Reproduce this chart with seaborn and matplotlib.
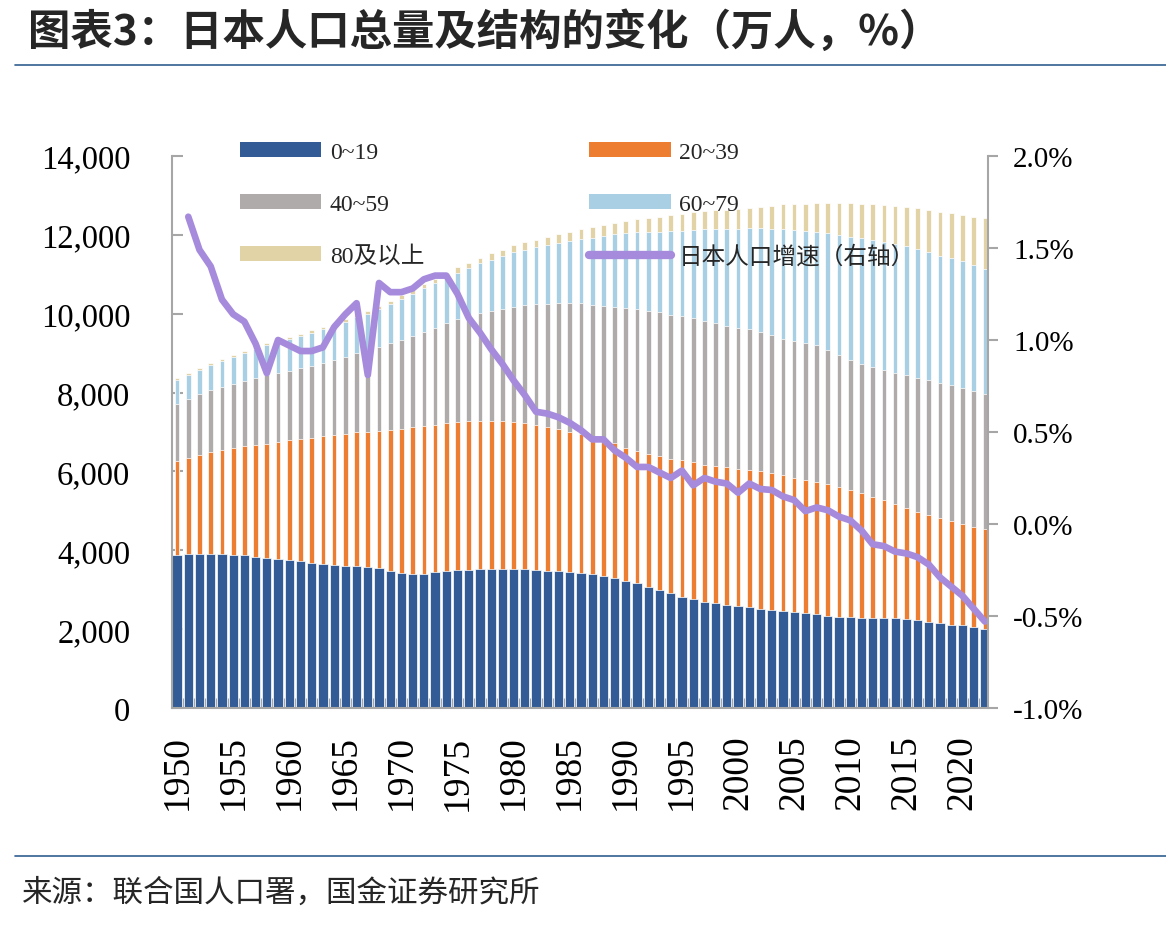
import numpy as np
import pandas as pd
import seaborn as sns
import matplotlib.pyplot as plt
from matplotlib.patches import Patch
from matplotlib.lines import Line2D

# 年份与各年龄段人口（万人）
years = list(range(1950, 2023))

age_0_19 = [3880, 3895, 3900, 3905, 3895, 3880, 3870, 3820, 3795, 3770,
            3760, 3735, 3690, 3650, 3625, 3610, 3600, 3580, 3540, 3465,
            3420, 3400, 3400, 3440, 3480, 3505, 3510, 3520, 3530, 3530,
            3530, 3530, 3510, 3485, 3470, 3440, 3415, 3400, 3340, 3285,
            3225, 3160, 3070, 2995, 2910, 2825, 2755, 2700, 2665, 2625,
            2585, 2550, 2520, 2485, 2460, 2425, 2400, 2375, 2340, 2315,
            2315, 2290, 2290, 2270, 2270, 2255, 2230, 2185, 2160, 2115,
            2100, 2055, 2015]

age_20_39 = [2390, 2450, 2520, 2585, 2655, 2710, 2770, 2855, 2905, 2980,
             3025, 3085, 3160, 3245, 3305, 3345, 3390, 3420, 3490, 3590,
             3660, 3720, 3750, 3740, 3750, 3755, 3760, 3750, 3740, 3740,
             3735, 3710, 3660, 3635, 3600, 3565, 3535, 3480, 3470, 3440,
             3380, 3350, 3360, 3385, 3410, 3455, 3475, 3475, 3480, 3480,
             3480, 3480, 3480, 3470, 3445, 3410, 3375, 3365, 3340, 3290,
             3210, 3160, 3065, 3000, 2895, 2820, 2745, 2720, 2655, 2620,
             2565, 2530, 2530]

age_40_59 = [1440, 1490, 1540, 1570, 1595, 1630, 1660, 1690, 1740, 1740,
             1765, 1800, 1830, 1860, 1900, 1950, 2010, 2075, 2130, 2195,
             2255, 2320, 2390, 2460, 2530, 2600, 2690, 2740, 2805, 2855,
             2915, 2975, 3065, 3135, 3195, 3265, 3310, 3350, 3395, 3455,
             3550, 3600, 3645, 3655, 3660, 3655, 3655, 3635, 3610, 3595,
             3580, 3570, 3530, 3495, 3465, 3470, 3480, 3460, 3400, 3350,
             3300, 3275, 3290, 3300, 3335, 3370, 3400, 3410, 3425, 3455,
             3455, 3460, 3425]

age_60_79 = [610, 615, 620, 640, 660, 685, 705, 735, 765, 790,
             800, 810, 835, 845, 860, 890, 905, 910, 955, 990,
             1035, 1055, 1100, 1130, 1155, 1185, 1200, 1265, 1300, 1330,
             1385, 1410, 1445, 1485, 1530, 1570, 1630, 1700, 1760, 1840,
             1890, 1950, 1995, 2045, 2115, 2175, 2240, 2330, 2390, 2445,
             2515, 2565, 2635, 2690, 2775, 2820, 2845, 2860, 2955, 3040,
             3125, 3185, 3220, 3250, 3265, 3270, 3275, 3255, 3235, 3220,
             3220, 3195, 3170]

age_80 = [40, 42, 44, 46, 48, 50, 51, 52, 53, 54,
          55, 58, 62, 66, 70, 73, 77, 80, 85, 90,
          95, 100, 108, 115, 122, 130, 138, 145, 155, 162,
          170, 182, 195, 208, 222, 235, 250, 265, 280, 292,
          305, 330, 355, 380, 405, 430, 450, 460, 475, 490,
          490, 515, 545, 600, 625, 650, 695, 740, 770, 815,
          855, 885, 905, 945, 970, 995, 1025, 1070, 1115, 1140,
          1175, 1225, 1275]

# 日本人口增速（%），1951-2022
growth_years = list(range(1951, 2023))
growth = [1.67, 1.49, 1.40, 1.22, 1.14, 1.10, 0.98, 0.82, 1.00, 0.97,
          0.94, 0.94, 0.96, 1.07, 1.14, 1.20, 0.81, 1.31, 1.26, 1.26,
          1.28, 1.33, 1.35, 1.35, 1.25, 1.12, 1.04, 0.95, 0.87, 0.78,
          0.70, 0.61, 0.60, 0.58, 0.55, 0.51, 0.46, 0.46, 0.40, 0.36,
          0.31, 0.31, 0.28, 0.25, 0.29, 0.21, 0.25, 0.23, 0.22, 0.17,
          0.22, 0.19, 0.185, 0.15, 0.13, 0.07, 0.09, 0.075, 0.04, 0.02,
          -0.035, -0.11, -0.12, -0.15, -0.16, -0.18, -0.22, -0.29, -0.34, -0.39,
          -0.46, -0.53]

groups = ['0~19', '20~39', '40~59', '60~79', '80及以上']
colors = ['#335C96', '#ED7D31', '#AFABAB', '#A9CFE4', '#E2D3A6']
line_color = '#A68BDC'
line_label = '日本人口增速（右轴）'

sns.set_theme(style='white')
plt.rcParams['font.family'] = ['Liberation Serif', 'Noto Sans CJK SC']
plt.rcParams['axes.unicode_minus'] = False

df = pd.DataFrame({'年份': [str(y) for y in years], '0~19': age_0_19,
                   '20~39': age_20_39, '40~59': age_40_59,
                   '60~79': age_60_79, '80及以上': age_80})
tops = df[groups].cumsum(axis=1)

fig = plt.figure(figsize=(11.66, 9.28), dpi=100)
W, H = 1166, 928
ax = fig.add_axes([172 / W, 1 - 709 / H, (988 - 172) / W, (709 - 157) / H])

# 堆积柱：从最上层往下叠画
for g, c in reversed(list(zip(groups, colors))):
    w = 0.82 if g == '0~19' else 0.42
    sns.barplot(x=df['年份'], y=tops[g], color=c, width=w, saturation=1,
                errorbar=None, ax=ax, edgecolor='white', linewidth=0.5)

ax.set_xlim(-0.45, 72.28)
ax.set_ylim(0, 14000)
ax.set_yticks(range(0, 14001, 2000))
ax.yaxis.set_major_formatter(lambda v, p: f'{v:,.0f}')
ax.set_xticks(range(0, 73, 5))
ax.set_xticklabels([str(y) for y in years[::5]], rotation=90)
ax.set_xticks(np.arange(-0.5, 73, 1), minor=True)
ax.set_xlabel('')
ax.set_ylabel('')

spine_c = '#A6A6A6'
ax.tick_params(axis='x', which='major', length=0, pad=19, labelsize=27,
               labelcolor='black')
ax.tick_params(axis='x', which='minor', direction='in', length=7, width=1,
               color=spine_c, bottom=True)
ax.tick_params(axis='y', direction='in', length=8, width=1.5, color=spine_c,
               pad=30, labelsize=23.5, labelcolor='black', left=True)
for s in ['top', 'right']:
    ax.spines[s].set_visible(False)
for s in ['left', 'bottom']:
    ax.spines[s].set_color(spine_c)
    ax.spines[s].set_linewidth(1.5)

# 右轴：人口增速
ax2 = ax.twinx()
sns.lineplot(x=[y - years[0] for y in growth_years], y=growth, ax=ax2,
             color=line_color, linewidth=4.8, solid_joinstyle='round',
             solid_capstyle='round')
ax2.set_ylim(-1.0, 2.0)
ax2.set_yticks(np.arange(-1.0, 2.01, 0.5))
ax2.yaxis.set_major_formatter(lambda v, p: f'{v:.1f}%')
ax2.set_ylabel('')
ax2.tick_params(axis='y', direction='out', length=7, width=1.5, color=spine_c,
                pad=11, labelsize=21, labelcolor='black', right=True)
for s in ['top', 'left', 'bottom']:
    ax2.spines[s].set_visible(False)
ax2.spines['right'].set_color(spine_c)
ax2.spines['right'].set_linewidth(1.5)
ax.set_xlim(-0.45, 72.28)

# 图例（两列三行）
patches = [Patch(facecolor=c, edgecolor='none', label=g)
           for g, c in zip(groups, colors)]
line_h = Line2D([], [], color=line_color, linewidth=6, label=line_label,
                solid_capstyle='round')
handles = [patches[0], patches[2], patches[4], patches[1], patches[3], line_h]
ax2.legend(handles=handles, ncol=2, frameon=False, fontsize=17,
           loc='upper left', bbox_to_anchor=(240 / W, 1 - 143 / H),
           bbox_transform=fig.transFigure, borderpad=0, borderaxespad=0,
           handlelength=3.45, handleheight=0.6, handletextpad=0.35,
           columnspacing=7.0, labelspacing=1.3)

# 标题、分隔线与来源
fig.text(28 / W, 1 - 33 / H, '图表3：日本人口总量及结构的变化（万人，%）',
         fontsize=30.5, fontweight='bold', va='center', ha='left',
         family=['Noto Sans CJK SC'])
fig.add_artist(Line2D([15 / W, 1], [1 - 66 / H] * 2, color='#2F5F8F',
                      linewidth=1.2))
fig.add_artist(Line2D([15 / W, 1], [1 - 857 / H] * 2, color='#2F5F8F',
                      linewidth=1.2))
fig.text(22 / W, 1 - 893 / H, '来源：联合国人口署，国金证券研究所',
         fontsize=22, va='center', ha='left', family=['Noto Sans CJK SC'])

fig.savefig('out.png', dpi=100)
